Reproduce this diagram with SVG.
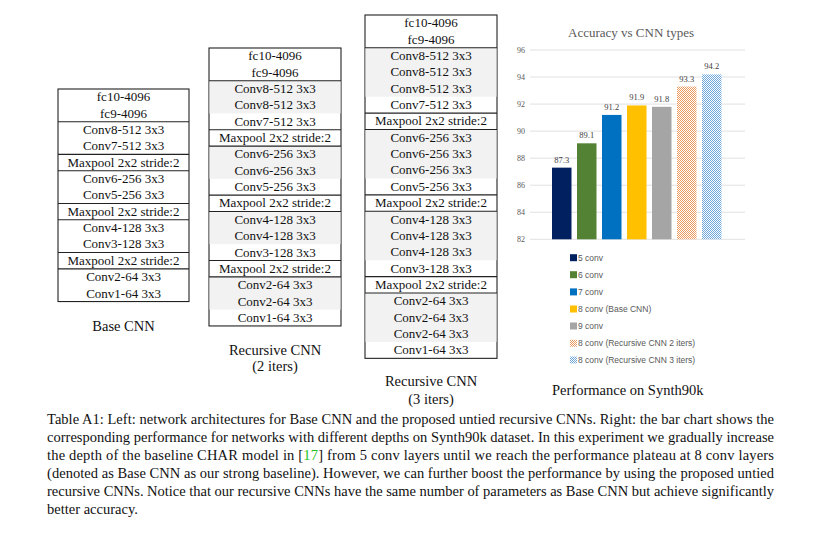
<svg xmlns="http://www.w3.org/2000/svg" width="819" height="533" viewBox="0 0 819 533">
<style>
.t{font-family:"Liberation Serif","Times New Roman",serif;font-size:13px;fill:#111;text-anchor:middle}
.lbl{font-family:"Liberation Serif","Times New Roman",serif;font-size:14.5px;fill:#111;text-anchor:middle}
.cap{font-family:"Liberation Serif","Times New Roman",serif;font-size:14.5px;fill:#111}
.frame{fill:#fff;stroke:#222;stroke-width:1.1}
.sep{stroke:#222;stroke-width:1.1}
.shade{fill:#f2f2f2}
.grid{stroke:#d9d9d9;stroke-width:0.8}
.ax{font-family:"Liberation Serif","Times New Roman",serif;font-size:8px;fill:#595959;text-anchor:end}
.val{font-family:"Liberation Serif","Times New Roman",serif;font-size:8.5px;fill:#404040;text-anchor:middle}
.leg{font-family:"Liberation Sans",Arial,sans-serif;font-size:8.5px;fill:#595959}
</style>
<defs>
<pattern id="pOrange" width="2" height="2" patternUnits="userSpaceOnUse">
<rect width="2" height="2" fill="#fff"/>
<rect width="1" height="1" fill="#eb9a60"/>
<rect x="1" y="1" width="1" height="1" fill="#eb9a60"/>
</pattern>
<pattern id="pBlue" width="2" height="2" patternUnits="userSpaceOnUse">
<rect width="2" height="2" fill="#fff"/>
<rect width="1" height="1" fill="#6fa6dc"/>
<rect x="1" y="1" width="1" height="1" fill="#6fa6dc"/>
</pattern>
</defs>
<rect width="819" height="533" fill="#fff"/>

<g id="base-cnn">
<rect class="frame" x="58" y="89" width="131" height="212.55"/>
<line class="sep" x1="58" x2="189" y1="121.7" y2="121.7"/>
<line class="sep" x1="58" x2="189" y1="154.4" y2="154.4"/>
<line class="sep" x1="58" x2="189" y1="170.75" y2="170.75"/>
<line class="sep" x1="58" x2="189" y1="203.45" y2="203.45"/>
<line class="sep" x1="58" x2="189" y1="219.8" y2="219.8"/>
<line class="sep" x1="58" x2="189" y1="252.5" y2="252.5"/>
<line class="sep" x1="58" x2="189" y1="268.85" y2="268.85"/>
<text class="t" x="123.5" y="101.3">fc10-4096</text>
<text class="t" x="123.5" y="117.65">fc9-4096</text>
<text class="t" x="123.5" y="134">Conv8-512 3x3</text>
<text class="t" x="123.5" y="150.35">Conv7-512 3x3</text>
<text class="t" x="123.5" y="166.7">Maxpool 2x2 stride:2</text>
<text class="t" x="123.5" y="183.05">Conv6-256 3x3</text>
<text class="t" x="123.5" y="199.4">Conv5-256 3x3</text>
<text class="t" x="123.5" y="215.75">Maxpool 2x2 stride:2</text>
<text class="t" x="123.5" y="232.1">Conv4-128 3x3</text>
<text class="t" x="123.5" y="248.45">Conv3-128 3x3</text>
<text class="t" x="123.5" y="264.8">Maxpool 2x2 stride:2</text>
<text class="t" x="123.5" y="281.15">Conv2-64 3x3</text>
<text class="t" x="123.5" y="297.5">Conv1-64 3x3</text>
<text class="lbl" x="123.5" y="331">Base CNN</text>
</g>

<g id="recursive-cnn-2">
<rect class="frame" x="209" y="48" width="132" height="277.95"/>
<rect class="shade" x="209.5" y="80.7" width="131" height="32.7"/>
<rect class="shade" x="209.5" y="146.1" width="131" height="32.7"/>
<rect class="shade" x="209.5" y="211.5" width="131" height="32.7"/>
<rect class="shade" x="209.5" y="276.9" width="131" height="32.7"/>
<line class="sep" x1="209" x2="341" y1="80.7" y2="80.7"/>
<line class="sep" x1="209" x2="341" y1="129.75" y2="129.75"/>
<line class="sep" x1="209" x2="341" y1="146.1" y2="146.1"/>
<line class="sep" x1="209" x2="341" y1="195.15" y2="195.15"/>
<line class="sep" x1="209" x2="341" y1="211.5" y2="211.5"/>
<line class="sep" x1="209" x2="341" y1="260.55" y2="260.55"/>
<line class="sep" x1="209" x2="341" y1="276.9" y2="276.9"/>
<text class="t" x="275" y="60.3">fc10-4096</text>
<text class="t" x="275" y="76.65">fc9-4096</text>
<text class="t" x="275" y="93">Conv8-512 3x3</text>
<text class="t" x="275" y="109.35">Conv8-512 3x3</text>
<text class="t" x="275" y="125.7">Conv7-512 3x3</text>
<text class="t" x="275" y="142.05">Maxpool 2x2 stride:2</text>
<text class="t" x="275" y="158.4">Conv6-256 3x3</text>
<text class="t" x="275" y="174.75">Conv6-256 3x3</text>
<text class="t" x="275" y="191.1">Conv5-256 3x3</text>
<text class="t" x="275" y="207.45">Maxpool 2x2 stride:2</text>
<text class="t" x="275" y="223.8">Conv4-128 3x3</text>
<text class="t" x="275" y="240.15">Conv4-128 3x3</text>
<text class="t" x="275" y="256.5">Conv3-128 3x3</text>
<text class="t" x="275" y="272.85">Maxpool 2x2 stride:2</text>
<text class="t" x="275" y="289.2">Conv2-64 3x3</text>
<text class="t" x="275" y="305.55">Conv2-64 3x3</text>
<text class="t" x="275" y="321.9">Conv1-64 3x3</text>
<text class="lbl" x="275" y="355">Recursive CNN</text>
<text class="lbl" x="275" y="371">(2 iters)</text>
</g>

<g id="recursive-cnn-3">
<rect class="frame" x="365" y="15" width="132" height="343.35"/>
<rect class="shade" x="365.5" y="47.7" width="131" height="49.05"/>
<rect class="shade" x="365.5" y="129.45" width="131" height="49.05"/>
<rect class="shade" x="365.5" y="211.2" width="131" height="49.05"/>
<rect class="shade" x="365.5" y="292.95" width="131" height="49.05"/>
<line class="sep" x1="365" x2="497" y1="47.7" y2="47.7"/>
<line class="sep" x1="365" x2="497" y1="113.1" y2="113.1"/>
<line class="sep" x1="365" x2="497" y1="129.45" y2="129.45"/>
<line class="sep" x1="365" x2="497" y1="194.85" y2="194.85"/>
<line class="sep" x1="365" x2="497" y1="211.2" y2="211.2"/>
<line class="sep" x1="365" x2="497" y1="276.6" y2="276.6"/>
<line class="sep" x1="365" x2="497" y1="292.95" y2="292.95"/>
<text class="t" x="431" y="27.3">fc10-4096</text>
<text class="t" x="431" y="43.65">fc9-4096</text>
<text class="t" x="431" y="60">Conv8-512 3x3</text>
<text class="t" x="431" y="76.35">Conv8-512 3x3</text>
<text class="t" x="431" y="92.7">Conv8-512 3x3</text>
<text class="t" x="431" y="109.05">Conv7-512 3x3</text>
<text class="t" x="431" y="125.4">Maxpool 2x2 stride:2</text>
<text class="t" x="431" y="141.75">Conv6-256 3x3</text>
<text class="t" x="431" y="158.1">Conv6-256 3x3</text>
<text class="t" x="431" y="174.45">Conv6-256 3x3</text>
<text class="t" x="431" y="190.8">Conv5-256 3x3</text>
<text class="t" x="431" y="207.15">Maxpool 2x2 stride:2</text>
<text class="t" x="431" y="223.5">Conv4-128 3x3</text>
<text class="t" x="431" y="239.85">Conv4-128 3x3</text>
<text class="t" x="431" y="256.2">Conv4-128 3x3</text>
<text class="t" x="431" y="272.55">Conv3-128 3x3</text>
<text class="t" x="431" y="288.9">Maxpool 2x2 stride:2</text>
<text class="t" x="431" y="305.25">Conv2-64 3x3</text>
<text class="t" x="431" y="321.6">Conv2-64 3x3</text>
<text class="t" x="431" y="337.95">Conv2-64 3x3</text>
<text class="t" x="431" y="354.3">Conv1-64 3x3</text>
<text class="lbl" x="431" y="386">Recursive CNN</text>
<text class="lbl" x="431" y="404">(3 iters)</text>
</g>

<g id="chart">
<text x="631" y="37" style="font-family:'Liberation Serif','Times New Roman',serif;font-size:13px;fill:#595959;text-anchor:middle">Accuracy vs CNN types</text>
<line class="grid" x1="530" x2="745" y1="50" y2="50"/>
<line class="grid" x1="530" x2="745" y1="77.04" y2="77.04"/>
<line class="grid" x1="530" x2="745" y1="104.08" y2="104.08"/>
<line class="grid" x1="530" x2="745" y1="131.12" y2="131.12"/>
<line class="grid" x1="530" x2="745" y1="158.16" y2="158.16"/>
<line class="grid" x1="530" x2="745" y1="185.2" y2="185.2"/>
<line class="grid" x1="530" x2="745" y1="212.24" y2="212.24"/>
<line class="grid" x1="530" x2="745" y1="239.3" y2="239.3"/>
<text class="ax" x="525" y="53">96</text>
<text class="ax" x="525" y="80">94</text>
<text class="ax" x="525" y="107">92</text>
<text class="ax" x="525" y="134">90</text>
<text class="ax" x="525" y="161">88</text>
<text class="ax" x="525" y="188">86</text>
<text class="ax" x="525" y="215">84</text>
<text class="ax" x="525" y="242">82</text>
<rect x="552" y="167.64" width="19.5" height="71.66" fill="#002060"/>
<rect x="577" y="143.31" width="19.5" height="95.99" fill="#548235"/>
<rect x="602" y="114.92" width="19.5" height="124.38" fill="#0070c0"/>
<rect x="627" y="105.45" width="19.5" height="133.85" fill="#ffc000"/>
<rect x="652" y="106.8" width="19.5" height="132.5" fill="#a5a5a5"/>
<rect x="677" y="86.52" width="19.5" height="152.78" fill="url(#pOrange)"/>
<rect x="702" y="74.36" width="19.5" height="164.94" fill="url(#pBlue)"/>
<text class="val" x="561.75" y="162.6">87.3</text>
<text class="val" x="586.75" y="138.3">89.1</text>
<text class="val" x="611.75" y="109.9">91.2</text>
<text class="val" x="636.75" y="100.4">91.9</text>
<text class="val" x="661.75" y="101.8">91.8</text>
<text class="val" x="686.75" y="81.5">93.3</text>
<text class="val" x="711.75" y="69.4">94.2</text>
</g>

<g id="legend">
<rect x="570" y="254.2" width="7" height="7" fill="#002060"/>
<text class="leg" x="578" y="260.8">5 conv</text>
<rect x="570" y="271.2" width="7" height="7" fill="#548235"/>
<text class="leg" x="578" y="277.8">6 conv</text>
<rect x="570" y="288.4" width="7" height="7" fill="#0070c0"/>
<text class="leg" x="578" y="295">7 conv</text>
<rect x="570" y="305.5" width="7" height="7" fill="#ffc000"/>
<text class="leg" x="578" y="312.1">8 conv (Base  CNN)</text>
<rect x="570" y="322.5" width="7" height="7" fill="#a5a5a5"/>
<text class="leg" x="578" y="329.1">9 conv</text>
<rect x="570" y="339.8" width="7" height="7" fill="url(#pOrange)"/>
<text class="leg" x="578" y="346.4">8 conv (Recursive CNN 2 iters)</text>
<rect x="570" y="356.5" width="7" height="7" fill="url(#pBlue)"/>
<text class="leg" x="578" y="363.1">8 conv (Recursive CNN 3 iters)</text>
<text class="lbl" x="552" y="395" style="text-anchor:start">Performance on Synth90k</text>
</g>

<g id="caption">
<text class="cap" x="47" y="424" textLength="727" lengthAdjust="spacing">Table A1: Left: network architectures for Base CNN and the proposed untied recursive CNNs. Right: the bar chart shows the</text>
<text class="cap" x="47" y="442" textLength="727" lengthAdjust="spacing">corresponding performance for networks with different depths on Synth90k dataset. In this experiment we gradually increase</text>
<text class="cap" x="47" y="460" textLength="727" lengthAdjust="spacing">the depth of the baseline CHAR model in [<tspan fill="#22c322">17</tspan>] from 5 conv layers until we reach the performance plateau at 8 conv layers</text>
<text class="cap" x="47" y="478" textLength="727" lengthAdjust="spacing">(denoted as Base CNN as our strong baseline). However, we can further boost the performance by using the proposed untied</text>
<text class="cap" x="47" y="496" textLength="727" lengthAdjust="spacing">recursive CNNs. Notice that our recursive CNNs have the same number of parameters as Base CNN but achieve significantly</text>
<text class="cap" x="47" y="514">better accuracy.</text>
</g>
</svg>
